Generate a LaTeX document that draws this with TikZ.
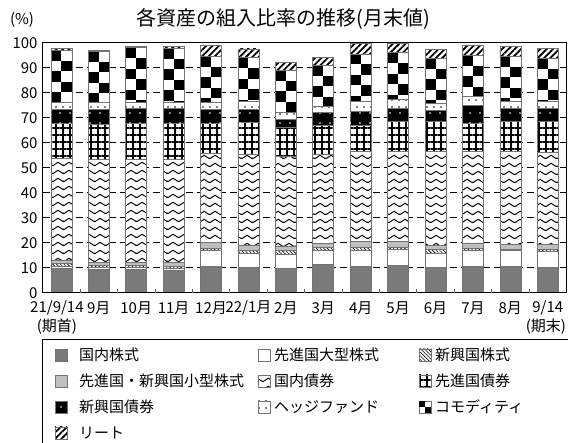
\documentclass[tikz,border=0pt]{standalone}
\usepackage{fontspec}
\setmainfont{Noto Sans CJK JP}
\usetikzlibrary{patterns, patterns.meta}

% chevron rows for the domestic bond segment
\pgfdeclarepatternformonly{zigzag}{\pgfqpoint{0pt}{0pt}}{\pgfqpoint{10.5pt}{7.5pt}}{\pgfqpoint{10.5pt}{7.5pt}}{%
  \pgfsetlinewidth{1pt}%
  \pgfpathmoveto{\pgfqpoint{-5.25pt}{5pt}}%
  \pgfpathlineto{\pgfqpoint{0pt}{1.5pt}}%
  \pgfpathlineto{\pgfqpoint{5.25pt}{5pt}}%
  \pgfpathlineto{\pgfqpoint{10.5pt}{1.5pt}}%
  \pgfpathlineto{\pgfqpoint{15.75pt}{5pt}}%
  \pgfusepath{stroke}}

\begin{document}
\begin{tikzpicture}[x=1pt, y=1pt]
  % ================= styles =================
  \tikzset{
    lbl/.style={font=\fontsize{15}{18}\selectfont, inner sep=1pt},
    ttl/.style={font=\fontsize{20}{24}\selectfont, inner sep=1pt},
    seg/.style={draw=black!55, line width=0.6pt},
    gridline/.style={line width=0.9pt, dash pattern=on 7pt off 4pt},
    swatch/.style={seg, minimum size=12pt, inner sep=0pt},
    jpeq/.style={fill=black!52},
    dmeq/.style={fill=white},
    emeq/.style={pattern={Lines[angle=-45, distance=2.6pt, line width=0.6pt]}},
    smeq/.style={fill=black!25},
    jpbd/.style={pattern=zigzag},
    dmbd/.style={pattern={Hatch[distance=7pt, line width=1.4pt]}},
    hfund/.style={pattern={Dots[distance=7pt, radius=0.8pt]}},
    reit/.style={pattern={Lines[angle=45, distance=4.5pt, line width=1.8pt]}}
  }
  \useasboundingbox (0,0) rectangle (568,443);

  % ================= title =================
  \node[ttl] (title) at (283,424) {各資産の組入比率の推移(月末値)};
  \node[lbl] (unit) at (22,423) {(\%)};

  % ================= chart =================
  \begin{scope}[shift={(24,150.3)}, x=37.41pt, y=2.5pt]
    \def\bw{0.281}
    \foreach \v in {10,20,...,90}
      \draw[gridline] (0.5,\v) -- (14.5,\v);
    \foreach \v in {0,10,...,100}
      \node[lbl, anchor=east] (y\v) at ([xshift=-4pt]0.5,\v) {\v};

    % bar: index / cumulative tops of the ten asset classes
    \foreach \i/\a/\b/\c/\d/\e/\f/\g/\h/\k/\m in {
        1/9.8/10.6/11.6/12.8/53.7/67.7/73.5/76/97/97.7,
        2/9.4/10.1/11.1/12.3/53.3/67.5/73.5/76/96.5/97,
        3/9.3/10/11/12.3/53.5/67.8/73.8/76.3/98/98.6,
        4/9/9.7/10.7/12/53.3/67.8/73.8/76.3/97.8/98.4,
        5/10.7/16.8/17.6/20.2/55.9/67.7/73.5/76/94.6/99,
        6/10.2/15.8/16.8/19.1/55.5/68/73.5/76.5/94/97.5,
        7/9.8/15.5/16.8/18.7/54.5/66/69.5/72/89/92,
        8/11.3/17/18/19.8/55.5/67/72/74.5/91/94,
        9/10.7/17/18.1/20.4/56.4/67/72.4/76.4/95.5/99.7,
        10/11/17.3/18.1/20.4/56.4/68.4/73.7/77.3/96/99.7,
        11/10.2/15.7/17.4/19/56.4/68.4/73/75.7/93.7/97.3,
        12/10.7/16.8/17.7/19.7/56.4/67.7/75/78.4/95/99,
        13/10.7/16.8/17.5/19.4/56.4/68.4/73.7/76.4/94.6/98.6,
        14/10.2/16.4/17.2/19.4/56/68.4/73.7/76.4/93.7/97.7} {
      \fill[white] (\i-\bw,0) rectangle (\i+\bw,\m);
      \path[seg, jpeq] (\i-\bw,0) rectangle (\i+\bw,\a);
      \path[seg, dmeq] (\i-\bw,\a) rectangle (\i+\bw,\b);
      \path[seg, emeq] (\i-\bw,\b) rectangle (\i+\bw,\c);
      \path[seg, smeq] (\i-\bw,\c) rectangle (\i+\bw,\d);
      \path[seg, jpbd] (\i-\bw,\d) rectangle (\i+\bw,\e);
      \path[seg, dmbd] (\i-\bw,\e) rectangle (\i+\bw,\f);
      \path[seg, fill=black] (\i-\bw,\f) rectangle (\i+\bw,\g);
      \path[pattern={Dots[distance=10pt, radius=0.8pt]}, pattern color=white] (\i-\bw,\f) rectangle (\i+\bw,\g);
      \path[seg, hfund] (\i-\bw,\g) rectangle (\i+\bw,\h);
      % checker for commodities
      \begin{scope}
        \clip (\i-\bw,\h) rectangle (\i+\bw,\k);
        \foreach \r in {0,...,3} {
          \fill (\i-\bw,\k-8.4*\r) rectangle (\i,\k-8.4*\r-4.2);
          \fill (\i,\k-8.4*\r-4.2) rectangle (\i+\bw,\k-8.4*\r-8.4);
        }
      \end{scope}
      \path[seg] (\i-\bw,\h) rectangle (\i+\bw,\k);
      \path[seg, reit] (\i-\bw,\k) rectangle (\i+\bw,\m);
    }

    % frame and ticks
    \draw[line width=0.9pt] (0.5,0) rectangle (14.5,100);
    \foreach \t in {1,...,13}
      \draw[line width=0.8pt, black!60] (\t+0.5,0) -- (\t+0.5,1.6);

    % month labels
    \node[lbl] (x1) at (0.88,-6.1) {21/9/14};
    \node[lbl] (x1b) at (0.88,-13.7) {(期首)};
    \foreach \i/\t in {2/9月, 3/10月, 4/11月, 5/12月, 7/2月, 8/3月, 9/4月,
                       10/5月, 11/6月, 12/7月, 13/8月}
      \node[lbl] (x\i) at (\i,-6.1) {\t};
    \node[lbl] (x6) at (6,-6.1) {22/1月};
    \node[lbl] (x14) at (14,-6.1) {9/14};
    \node[lbl] (x14b) at (13.95,-13.7) {(期末)};
  \end{scope}

  % ================= legend =================
  \draw[line width=0.9pt] (42,-2) rectangle (570,104);

  % row 1
  \node[swatch, jpeq] (sw1) at (61,88) {};
  \node[lbl, anchor=west] (lg1) at (78,88) {国内株式};
  \node[swatch, dmeq] (sw2) at (264,88) {};
  \node[lbl, anchor=west] (lg2) at (273,88) {先進国大型株式};
  \node[swatch, emeq] (sw3) at (425,88) {};
  \node[lbl, anchor=west] (lg3) at (434,88) {新興国株式};
  % row 2
  \node[swatch, smeq] (sw4) at (61,62) {};
  \node[lbl, anchor=west] (lg4) at (78,62) {先進国・新興国小型株式};
  \node[swatch, jpbd] (sw5) at (264,62) {};
  \node[lbl, anchor=west] (lg5) at (273,62) {国内債券};
  \node[swatch, dmbd] (sw6) at (425,62) {};
  \node[lbl, anchor=west] (lg6) at (434,62) {先進国債券};
  % row 3
  \node[swatch, fill=black] (sw7) at (61,36) {};
  \fill[white] (sw7.center) circle (0.9);
  \node[lbl, anchor=west] (lg7) at (78,36) {新興国債券};
  \node[swatch, hfund] (sw8) at (264,36) {};
  \node[lbl, anchor=west] (lg8) at (273,36) {ヘッジファンド};
  \node[swatch] (sw9) at (425,36) {};
  \fill (sw9.north west) rectangle (sw9.center);
  \fill (sw9.center) rectangle (sw9.south east);
  \node[lbl, anchor=west] (lg9) at (434,36) {コモディティ};
  % row 4
  \node[swatch, reit] (sw10) at (61,10) {};
  \node[lbl, anchor=west] (lg10) at (78,10) {リート};
\end{tikzpicture}
\end{document}
